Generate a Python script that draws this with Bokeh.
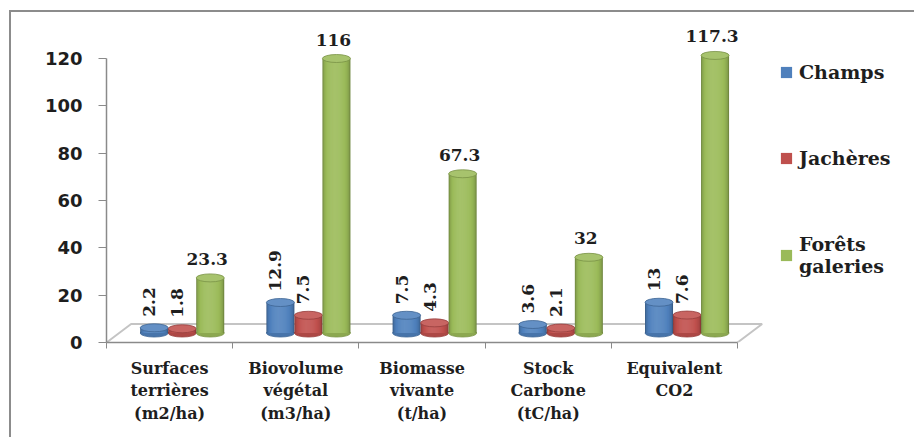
import math

from bokeh.core.properties import value
from bokeh.embed import file_html
from bokeh.models import FixedTicker, Legend, LegendItem, Range1d
from bokeh.plotting import figure
from bokeh.resources import INLINE

# ---- data -------------------------------------------------------------
categories = [
    "Surfaces\nterrières\n(m2/ha)",
    "Biovolume\nvégétal\n(m3/ha)",
    "Biomasse\nvivante\n(t/ha)",
    "Stock\nCarbone\n(tC/ha)",
    "Equivalent\nCO2",
]
series_names = ["Champs", "Jachères", "Forêts\ngaleries"]
champs = [2.2, 12.9, 7.5, 3.6, 13]
jacheres = [1.8, 7.5, 4.3, 2.1, 7.6]
forets = [23.3, 116, 67.3, 32, 117.3]
y_ticks = [0, 20, 40, 60, 80, 100, 120]

series_values = [champs, jacheres, forets]
series_colors = ["#4F81BD", "#C0504D", "#9BBB59"]
rotated_labels = [True, True, False]

# ---- geometry ---------------------------------------------------------
X_END = 6.331          # room on the right for the legend
Y_END = 136.06
DEPTH_X = 0.10         # bars stand half-way into the 3-D floor
DEPTH_Y = 4.0
BAR_W = 0.222
N_LEVELS = 16          # nested layers used to shade each cylinder
TEXT = "#1e1e1e"
FRAME_GREY = "#8c8c8c"


def shade(hex_color, f):
    r, g, b = (int(hex_color[i:i + 2], 16) for i in (1, 3, 5))
    if f >= 1:
        r, g, b = (c + (255 - c) * (f - 1) for c in (r, g, b))
    else:
        r, g, b = (c * f for c in (r, g, b))
    return "#%02x%02x%02x" % tuple(max(0, min(255, int(round(c)))) for c in (r, g, b))


# the chart area sits inside a grey left/top border, offset from the page corner
p = figure(
    width=905, height=427,
    x_range=Range1d(0, X_END), y_range=Range1d(0, Y_END),
    output_backend="svg", toolbar_location=None,
    min_border_left=95, min_border_right=11,
    min_border_top=8, min_border_bottom=97,
    outline_line_color=None,
    background_fill_color="white", border_fill_color="white",
    styles={
        "margin-left": "9px", "margin-top": "10px",
        "border-left": f"2px solid {FRAME_GREY}",
        "border-top": f"2px solid {FRAME_GREY}",
    },
)
p.extra_x_ranges = {"depth": Range1d(-DEPTH_X, X_END - DEPTH_X)}
p.extra_y_ranges = {"depth": Range1d(-DEPTH_Y, Y_END - DEPTH_Y)}
p.xgrid.visible = False
p.ygrid.visible = False

# ---- 3-D floor ---------------------------------------------------------
n = len(categories)
back = 2 * DEPTH_Y - 0.2
p.patch([0, n, n + 2 * DEPTH_X - 0.005, 2 * DEPTH_X - 0.005], [0, 0, back, back],
        fill_color="white", line_color=None)
p.line([0, 2 * DEPTH_X - 0.005, n + 2 * DEPTH_X - 0.005, n], [0, back, back, 0],
       line_color="#c4c4c4", line_width=2)

# ---- cylinders ----------------------------------------------------------
# each cylinder body is a stack of nested bars, darkest and widest first,
# narrowing towards a highlight a little left of centre
legend_renderers = []
for s, (vals, col) in enumerate(zip(series_values, series_colors)):
    xs = [i + 0.5 + (s - 1) * BAR_W for i in range(n)]
    p.ellipse(x=xs, y=[0] * n, width=BAR_W, height=8, height_units="screen",
              fill_color=shade(col, 0.9), line_color=shade(col, 0.8), line_width=0.8,
              x_range_name="depth", y_range_name="depth")
    best, legend_r = None, None
    for k in range(N_LEVELS):
        h = 1 - k / N_LEVELS
        f = 0.72 + 0.38 * math.sqrt(max(0.0, 1 - h * h))
        shift = -0.15 * (1 - h) * BAR_W / 2
        r = p.vbar(x=[x + shift for x in xs], top=vals, bottom=0, width=BAR_W * h,
                   fill_color=shade(col, f), line_color=None,
                   x_range_name="depth", y_range_name="depth")
        if best is None or abs(f - 1) < best:
            best, legend_r = abs(f - 1), r
    p.ellipse(x=xs, y=vals, width=BAR_W, height=8, height_units="screen",
              fill_color=shade(col, 1.12), line_color=shade(col, 0.78), line_width=0.8,
              x_range_name="depth", y_range_name="depth")
    legend_renderers.append(legend_r)

    labels = [("%g" % v) for v in vals]
    if rotated_labels[s]:
        p.text(x=xs, y=vals, text=labels, angle=math.pi / 2,
               x_offset=-5, y_offset=-11,
               text_align="left", text_baseline="middle",
               text_font=value("DejaVu Serif"), text_font_style="bold",
               text_font_size="17px", text_color=TEXT,
               x_range_name="depth", y_range_name="depth")
    else:
        p.text(x=xs, y=vals, text=labels, x_offset=-3, y_offset=-13,
               text_align="center", text_baseline="bottom",
               text_font=value("DejaVu Serif"), text_font_style="bold",
               text_font_size="17px", text_color=TEXT,
               x_range_name="depth", y_range_name="depth")

# ---- axes ---------------------------------------------------------------
AXIS_GREY = "#8a8a8a"
yax = p.yaxis[0]
yax.ticker = FixedTicker(ticks=y_ticks)
yax.bounds = (0, 120)
yax.axis_line_color = AXIS_GREY
yax.axis_line_width = 1.5
yax.major_tick_line_color = AXIS_GREY
yax.major_tick_out = 8
yax.major_tick_in = 0
yax.minor_tick_line_color = None
yax.major_label_standoff = 16
yax.major_label_text_font = "DejaVu Sans"
yax.major_label_text_font_style = "bold"
yax.major_label_text_font_size = "18px"
yax.major_label_text_color = TEXT

xax = p.xaxis[0]
centers = [i + 0.5 for i in range(n)]
xax.ticker = FixedTicker(ticks=centers, minor_ticks=list(range(n + 1)))
xax.bounds = (0, n)
xax.major_label_overrides = {c: lab for c, lab in zip(centers, categories)}
xax.axis_line_color = AXIS_GREY
xax.axis_line_width = 1.5
xax.major_tick_line_color = None
xax.minor_tick_line_color = AXIS_GREY
xax.minor_tick_out = 6
xax.minor_tick_in = 0
xax.major_label_standoff = 10
xax.major_label_text_font = "DejaVu Serif"
xax.major_label_text_font_style = "bold"
xax.major_label_text_font_size = "16px"
xax.major_label_text_color = TEXT

# ---- legend -------------------------------------------------------------
legend = Legend(
    items=[LegendItem(label=name, renderers=[r]) for name, r in zip(series_names, legend_renderers)],
    location=(673, 65), orientation="vertical",
    glyph_width=14, glyph_height=14, label_standoff=6, spacing=64,
    padding=0, margin=0, border_line_color=None, background_fill_alpha=0,
    label_text_font="DejaVu Serif", label_text_font_style="bold",
    label_text_font_size="19px", label_text_color=TEXT, label_height=20,
)
p.add_layout(legend, "center")

with open("out.html", "w") as fh:
    fh.write(file_html(p, INLINE))
